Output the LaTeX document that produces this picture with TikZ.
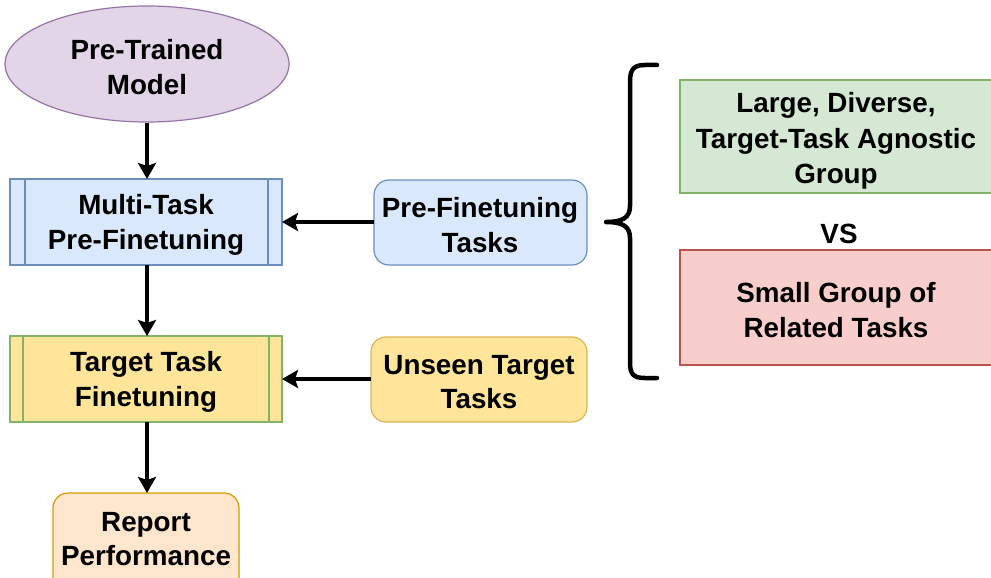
\documentclass[tikz,border=0pt]{standalone}
\usepackage{fontspec}
\setmainfont{Liberation Sans}
\usetikzlibrary{arrows.meta,shapes.geometric}
\definecolor{purpF}{HTML}{E1D5E7}\definecolor{purpD}{HTML}{9673A6}
\definecolor{blueF}{HTML}{DAE8FC}\definecolor{blueD}{HTML}{6C8EBF}
\definecolor{yelF}{HTML}{FFE599}\definecolor{yelD}{HTML}{D6B656}
\definecolor{greenF}{HTML}{D5E8D4}\definecolor{greenD}{HTML}{82B366}
\definecolor{redF}{HTML}{F8CECC}\definecolor{redD}{HTML}{B85450}
\definecolor{orF}{HTML}{FFE6CC}\definecolor{orD}{HTML}{D79B00}
\tikzset{
  lbl/.style={font=\fontsize{27.8}{34.5}\selectfont\bfseries, align=center, text=black, inner sep=0pt},
  boxshape/.style={draw=#1, line width=1.2pt},
  conn/.style={line width=3.3pt, -{Stealth[length=16pt,width=18pt,inset=3pt]}},
  brace/.style={line width=4.5pt, line cap=round, line join=round}
}
\begin{document}
\begin{tikzpicture}[x=1pt,y=-1pt]
\useasboundingbox (0,0) rectangle (991,578);
% ellipse
\node[ellipse, draw=purpD, fill=purpF, line width=1.2pt, minimum width=284pt, minimum height=116pt, inner sep=0pt] (ptm) at (147,64) {};
\node[lbl] at (147,67) {Pre-Trained\\Model};
% multi-task pre-finetuning
\filldraw[boxshape=blueD, fill=blueF] (10,179) rectangle (282,265);
\draw[blueD, line width=1.2pt] (25,179) -- (25,265) (268,179) -- (268,265);
\node[lbl] (mtp) at (146,225) {Multi-Task\\Pre-Finetuning};
\coordinate (mtpT) at (147,179); \coordinate (mtpB) at (147,265); \coordinate (mtpR) at (282,222);
% target task finetuning
\filldraw[boxshape=greenD, fill=yelF] (10,336) rectangle (282,422);
\draw[greenD, line width=1.2pt] (23,336) -- (23,422) (269,336) -- (269,422);
\node[lbl] (ttf) at (146,382) {Target Task\\Finetuning};
\coordinate (ttfT) at (147,336); \coordinate (ttfB) at (147,422); \coordinate (ttfR) at (282,379);
% report performance
\filldraw[boxshape=orD, fill=orF, rounded corners=15pt] (53,493) rectangle (239,600);
\node[lbl] (rep) at (146,539) {Report\\Performance};
\coordinate (repT) at (147,493);
% pre-finetuning tasks
\filldraw[boxshape=blueD, fill=blueF, rounded corners=15pt] (374,180) rectangle (587,265);
\node[lbl] (pft) at (480,225) {Pre-Finetuning\\Tasks};
\coordinate (pftL) at (374,222);
% unseen target tasks
\filldraw[boxshape=yelD, fill=yelF, rounded corners=15pt] (371,337) rectangle (587,422);
\node[lbl] (utt) at (479,382) {Unseen Target\\Tasks};
\coordinate (uttL) at (371,379);
% right boxes
\filldraw[boxshape=greenD, fill=greenF] (680,80) rectangle (992,193);
\node[lbl, font=\fontsize{27.8}{35.5}\selectfont\bfseries] (large) at (836,141) {Large, Diverse,\\Target-Task Agnostic\\Group};
\node[lbl] (vs) at (839,234) {VS};
\filldraw[boxshape=redD, fill=redF] (680,250) rectangle (992,365);
\node[lbl] (small) at (836,310) {Small Group of\\Related Tasks};
% brace
\draw[brace] (657,65) -- (645,65) .. controls (633,65) and (630,70) .. (630,82) -- (630,206)
  .. controls (630,218) and (622,222) .. (606,222)
  .. controls (622,222) and (630,226) .. (630,238) -- (630,362)
  .. controls (630,374) and (633,378) .. (645,378) -- (657,378);
% connectors
\draw[conn] (ptm.south) -- (mtpT);
\draw[conn] (mtpB) -- (ttfT);
\draw[conn] (ttfB) -- (repT);
\draw[conn] (pftL) -- (mtpR);
\draw[conn] (uttL) -- (ttfR);
\end{tikzpicture}
\end{document}
